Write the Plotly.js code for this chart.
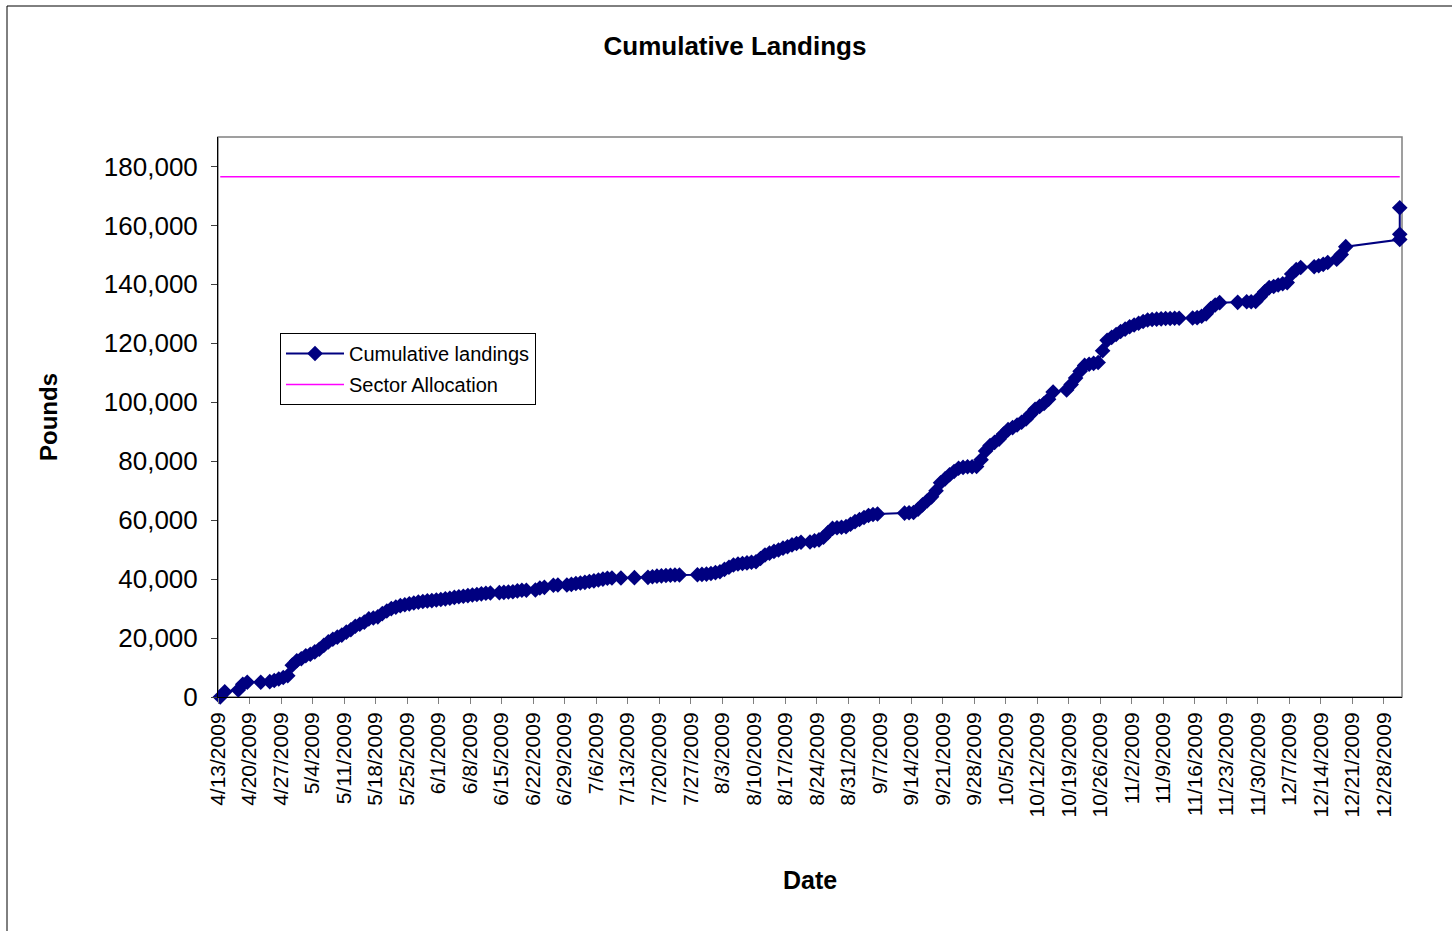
<!DOCTYPE html>
<html>
<head>
<meta charset="utf-8">
<script src="https://cdn.plot.ly/plotly-3.0.1.min.js"></script>
<style>
  html, body { margin: 0; padding: 0; background: #ffffff; }
  #chart { width: 1452px; height: 931px; }
</style>
</head>
<body>
<div id="chart"></div>
<script>
// ---- Data ----
const landingDates = [
  "2009-04-13","2009-04-14","2009-04-17","2009-04-18","2009-04-19","2009-04-22","2009-04-24","2009-04-25",
  "2009-04-26","2009-04-27","2009-04-28","2009-04-29","2009-04-30","2009-05-01","2009-05-02","2009-05-03",
  "2009-05-04","2009-05-05","2009-05-06","2009-05-07","2009-05-08","2009-05-09","2009-05-10","2009-05-11",
  "2009-05-12","2009-05-13","2009-05-14","2009-05-15","2009-05-16","2009-05-17","2009-05-18","2009-05-19",
  "2009-05-20","2009-05-21","2009-05-22","2009-05-23","2009-05-24","2009-05-25","2009-05-26","2009-05-27",
  "2009-05-28","2009-05-29","2009-05-30","2009-05-31","2009-06-01","2009-06-02","2009-06-03","2009-06-04",
  "2009-06-05","2009-06-06","2009-06-07","2009-06-08","2009-06-09","2009-06-10","2009-06-11","2009-06-12",
  "2009-06-14","2009-06-15","2009-06-16","2009-06-17","2009-06-18","2009-06-19","2009-06-20","2009-06-22",
  "2009-06-23","2009-06-24","2009-06-26","2009-06-27","2009-06-29","2009-06-30","2009-07-01","2009-07-02",
  "2009-07-03","2009-07-04","2009-07-05","2009-07-06","2009-07-07","2009-07-08","2009-07-09","2009-07-11",
  "2009-07-14","2009-07-17","2009-07-18","2009-07-19","2009-07-20","2009-07-21","2009-07-22","2009-07-23",
  "2009-07-24","2009-07-28","2009-07-29","2009-07-30","2009-07-31","2009-08-01","2009-08-02","2009-08-03",
  "2009-08-04","2009-08-05","2009-08-06","2009-08-07","2009-08-08","2009-08-09","2009-08-10","2009-08-11",
  "2009-08-12","2009-08-13","2009-08-14","2009-08-15","2009-08-16","2009-08-17","2009-08-18","2009-08-19",
  "2009-08-20","2009-08-22","2009-08-23","2009-08-24","2009-08-25","2009-08-26","2009-08-27","2009-08-28",
  "2009-08-29","2009-08-30","2009-08-31","2009-09-01","2009-09-02","2009-09-03","2009-09-04","2009-09-05",
  "2009-09-06","2009-09-12","2009-09-13","2009-09-14","2009-09-15","2009-09-16","2009-09-17","2009-09-18",
  "2009-09-19","2009-09-20","2009-09-21","2009-09-22","2009-09-23","2009-09-24","2009-09-25","2009-09-26",
  "2009-09-27","2009-09-28","2009-09-29","2009-09-30","2009-10-01","2009-10-02","2009-10-03","2009-10-04",
  "2009-10-05","2009-10-06","2009-10-07","2009-10-08","2009-10-09","2009-10-10","2009-10-11","2009-10-12",
  "2009-10-13","2009-10-14","2009-10-15","2009-10-18","2009-10-19","2009-10-20","2009-10-21","2009-10-22",
  "2009-10-23","2009-10-24","2009-10-25","2009-10-26","2009-10-27","2009-10-28","2009-10-29","2009-10-30",
  "2009-10-31","2009-11-01","2009-11-02","2009-11-03","2009-11-04","2009-11-05","2009-11-06","2009-11-07",
  "2009-11-08","2009-11-09","2009-11-10","2009-11-11","2009-11-12","2009-11-15","2009-11-16","2009-11-17",
  "2009-11-18","2009-11-19","2009-11-20","2009-11-21","2009-11-25","2009-11-27","2009-11-28","2009-11-29",
  "2009-11-30","2009-12-01","2009-12-02","2009-12-03","2009-12-04","2009-12-05","2009-12-06","2009-12-07",
  "2009-12-08","2009-12-09","2009-12-12","2009-12-13","2009-12-14","2009-12-15","2009-12-17","2009-12-18",
  "2009-12-19","2009-12-31","2009-12-31","2009-12-31"
];
const cumulativeLandings = [
  0,1800,2400,4300,5000,5000,5200,5600,
  6100,6600,7200,10800,12300,13000,14000,14500,
  15300,16200,17500,18700,19600,20300,21000,22000,
  22800,24000,24700,25400,26500,26800,27200,28300,
  29200,30000,30500,31000,31300,31600,31900,32200,
  32400,32600,32700,32900,33100,33300,33500,33800,
  34000,34200,34400,34600,34800,35000,35200,35300,
  35400,35500,35600,35700,36000,36200,36200,36300,
  37000,37200,37900,38000,38000,38200,38500,38700,
  38900,39200,39400,39700,40000,40300,40400,40400,
  40500,40600,40800,41000,41100,41200,41300,41400,
  41400,41500,41600,41700,41900,42200,42500,43300,
  44000,44800,45100,45300,45500,45700,45900,47000,
  48200,48800,49400,49900,50500,51000,51600,52100,
  52500,52600,53000,53300,54200,55800,57200,57400,
  57600,57800,58600,59500,60200,60900,61600,61900,
  62100,62400,62500,62600,63700,65200,66500,67900,
  70000,72700,74000,75400,76500,77600,77900,78100,
  78100,78200,80500,83500,85300,86400,87500,89200,
  90700,91400,92300,93200,94300,95900,97600,98600,
  99600,101000,103500,104200,106000,108200,110500,112500,
  112900,113200,113500,117500,121000,122000,123000,124000,
  124800,125600,126200,126800,127400,127900,128100,128200,
  128300,128400,128400,128500,128500,128600,128700,129200,
  130000,131800,133000,133800,133900,134100,134100,134200,
  135800,137500,138900,139300,139800,140200,140600,143500,
  145000,145700,146000,146300,146800,147400,148500,150100,
  152800,155200,157000,166000
];
const sectorAllocation = 176500;
const seriesNames = ["Cumulative landings", "Sector Allocation"];
const chartTitle = "Cumulative Landings";
const xTitle = "Date";
const yTitle = "Pounds";
const axisStart = "2009-04-13";
const axisEnd = "2010-01-01";

// Excel date axis places each day's point in the middle of its day slot
const xPoints = landingDates.map(d => d + " 12:00");
const allocX = [xPoints[0], xPoints[xPoints.length - 1]];
const allocY = allocX.map(() => sectorAllocation);

const FONT = "Arial, 'Liberation Sans', sans-serif";

const traces = [
  {
    x: xPoints, y: cumulativeLandings, name: seriesNames[0],
    type: "scatter", mode: "lines+markers",
    line: { color: "#000080", width: 2 },
    marker: { symbol: "diamond", size: 12, color: "#000080" },
    cliponaxis: false, legendgroup: "a"
  },
  {
    x: allocX, y: allocY, name: seriesNames[1],
    type: "scatter", mode: "lines",
    line: { color: "#FF00FF", width: 1.5 },
    legendgroup: "b"
  }
];

const layout = {
  width: 1452, height: 931,
  paper_bgcolor: "#ffffff", plot_bgcolor: "#ffffff",
  margin: { l: 218, r: 50, t: 137, b: 234, pad: 0 },
  font: { family: FONT, color: "#000000" },
  title: {
    text: "<b>" + chartTitle + "</b>",
    font: { family: FONT, size: 26, color: "#000000" },
    x: 735 / 1452, xref: "container", xanchor: "center",
    y: 1 - 46 / 931, yref: "container", yanchor: "middle"
  },
  xaxis: {
    type: "date",
    range: [axisStart, axisEnd],
    tick0: axisStart, dtick: 7 * 86400000,
    tickformat: "%-m/%-d/%Y",
    tickangle: -90,
    tickfont: { family: FONT, size: 21, color: "#000000" },
    ticks: "outside", ticklen: 6, tickcolor: "#808080", tickwidth: 1,
    showline: true, linecolor: "#000000", linewidth: 1,
    showgrid: false, zeroline: false, fixedrange: true
  },
  yaxis: {
    range: [0, 190000],
    tick0: 0, dtick: 20000,
    tickformat: ",d",
    tickfont: { family: FONT, size: 26, color: "#000000" },
    ticks: "outside", ticklen: 6, tickcolor: "#404040", tickwidth: 1,
    ticklabelstandoff: 8,
    showline: true, linecolor: "#000000", linewidth: 1,
    showgrid: false, zeroline: false, fixedrange: true
  },
  showlegend: true,
  legend: {
    x: (280 - 218) / 1184, y: (697 - 333) / 560,
    xanchor: "left", yanchor: "top",
    bgcolor: "#ffffff", bordercolor: "#000000", borderwidth: 1,
    font: { family: FONT, size: 20, color: "#000000" },
    traceorder: "grouped", tracegroupgap: 2, itemwidth: 58
  },
  shapes: [
    { type: "rect", xref: "paper", yref: "paper", x0: 0, x1: 1, y0: 0, y1: 1,
      line: { color: "#808080", width: 1.5 }, layer: "below" },
    { type: "rect", xref: "paper", yref: "paper",
      x0: (7 - 218) / 1184, x1: 1.2, y0: -0.6, y1: (697 - 6) / 560,
      line: { color: "#000000", width: 1 }, layer: "below" }
  ],
  annotations: [
    { text: "<b>" + yTitle + "</b>", xref: "paper", yref: "paper",
      x: (48 - 218) / 1184, y: (697 - 417) / 560, textangle: -90,
      showarrow: false, xanchor: "center", yanchor: "middle",
      font: { family: FONT, size: 24, color: "#000000" } },
    { text: "<b>" + xTitle + "</b>", xref: "paper", yref: "paper",
      x: 0.5, y: (697 - 880) / 560,
      showarrow: false, xanchor: "center", yanchor: "middle",
      font: { family: FONT, size: 25, color: "#000000" } }
  ]
};

Plotly.newPlot("chart", traces, layout, { displayModeBar: false, staticPlot: true });
</script>
</body>
</html>
